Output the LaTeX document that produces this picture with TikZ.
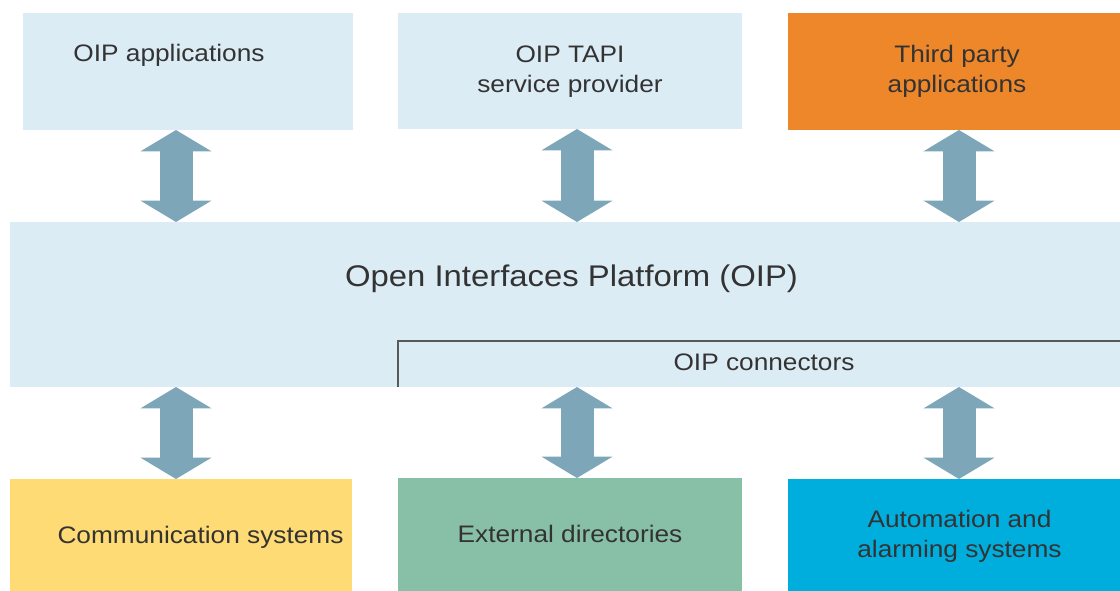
\documentclass[tikz,border=0pt]{standalone}
\usepackage{fontspec}
\setmainfont{Liberation Sans}[FakeStretch=1.1]
\usetikzlibrary{positioning,fit,arrows.meta}
\definecolor{paleblue}{HTML}{DCECF5}
\definecolor{thirdorange}{HTML}{EE862A}
\definecolor{commyellow}{HTML}{FEDB74}
\definecolor{dirgreen}{HTML}{87C0A6}
\definecolor{autoblue}{HTML}{00AEDE}
\definecolor{arrowblue}{HTML}{7EA6B9}
\definecolor{txtgray}{HTML}{333333}

\begin{document}
\begin{tikzpicture}[x=0.75pt ,y=-0.75pt ,
box/.style ={ inner sep=0pt ,outer sep=0pt ,draw=none},
lbl/.style ={ text=txtgray ,anchor=base ,align=center ,
font=\fontsize{17.9}{22.5}\selectfont},
both/.style ={ {Triangle[width=52.5pt,length=16pt]}-{Triangle[width=52.5pt,length=16pt]} ,
line width=24.75pt ,draw=arrowblue}]
\useasboundingbox (0,0) rectangle (1120,591);
\coordinate (L) at (176,0);
\coordinate (M) at (577,0);
\coordinate (R) at (959,0);
% top row
\node[box ,fill=paleblue ,fit={(23,13) (353,130)}] (app) {};
\node[box ,fill=paleblue ,fit={(398,13) (742,129)}] (tapi) {};
\node[box ,fill=thirdorange ,fit={(788,13) (1120,130)}] (third) {};
% platform
\node[box ,fill=paleblue ,fit={(10,222) (1120,387)}] (oip) {};
\draw[line width=1.1pt ,draw=black!65] (oip.south -| 398,0) |- (oip.east |- 0,341);
% bottom row
\node[box ,fill=commyellow ,fit={(10,479) (352,591)}] (comm) {};
\node[box ,fill=dirgreen ,fit={(398,478) (742,591)}] (dir) {};
\node[box ,fill=autoblue ,fit={(788,479) (1120,591)}] (auto) {};
% texts
\node[lbl] (appt) at (169,62) {OIP applications};
\node[lbl] (tapit) at (570,93) {OIP TAPI\\service provider};
\node[lbl] (thirdt) at (957,93) {Third party\\applications};
\node[lbl ,font=\fontsize{22.4}{26}\selectfont] (oipt) at (571.5,287) {Open Interfaces Platform (OIP)};
\node[lbl] (connt) at (764,370) {OIP connectors};
\node[lbl] (commt) at (200.5,543) {Communication systems};
\node[lbl] (dirt) at (570,542) {External directories};
\node[lbl] (autot) at (959.5,557) {Automation and\\alarming systems};
% arrows
\draw[both] (app.south -| L) -- (oip.north -| L);
\draw[both] (tapi.south -| M) -- (oip.north -| M);
\draw[both] (third.south -| R) -- (oip.north -| R);
\draw[both] (oip.south -| L) -- (comm.north -| L);
\draw[both] (oip.south -| M) -- (dir.north -| M);
\draw[both] (oip.south -| R) -- (auto.north -| R);
\end{tikzpicture}
\end{document}
